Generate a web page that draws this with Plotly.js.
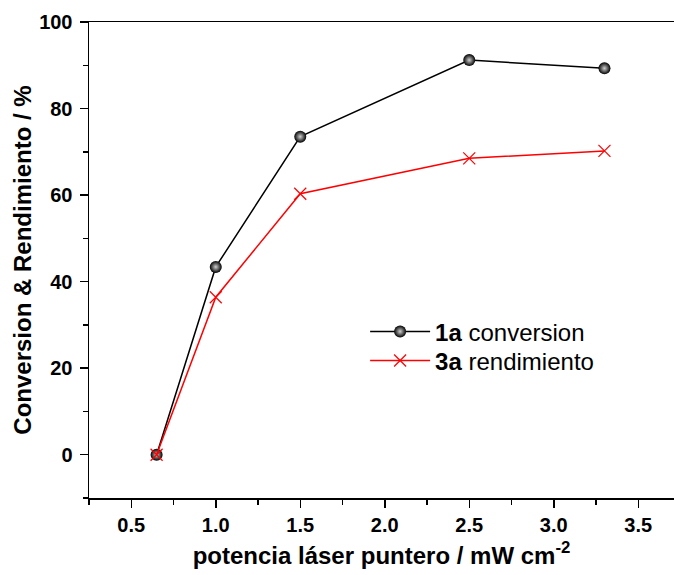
<!DOCTYPE html>
<html>
<head>
<meta charset="utf-8">
<script src="https://cdn.plot.ly/plotly-3.0.1.min.js"></script>
<style>html,body{margin:0;padding:0;background:#fff;overflow:hidden}</style>
</head>
<body>
<div id="chart" style="width:674px;height:575px"></div>
<script>
const potencia = [0.65, 1.0, 1.5, 2.5, 3.3];
const conversion1a = [0, 43.4, 73.5, 91.2, 89.3];
const rendimiento3a = [0, 36.4, 60.3, 68.5, 70.2];
const seriesNames = ['<b>1a</b> conversion', '<b>3a</b> rendimiento'];
const xTitle = 'potencia láser puntero / mW cm<sup>-2</sup>';
const yTitle = 'Conversion &amp; Rendimiento / %';

const FONT = 'Arial, "Liberation Sans", sans-serif';

const traces = [
  {
    x: potencia, y: conversion1a, name: seriesNames[0],
    mode: 'lines+markers', type: 'scatter', legend: 'legend',
    line: {color: 'black', width: 1.5},
    marker: {symbol: 'circle', size: 12, color: 'black',
             gradient: {type: 'radial', color: '#d0d0d0'},
             line: {width: 0}}
  },
  {
    x: potencia, y: rendimiento3a, name: seriesNames[1],
    mode: 'lines+markers', type: 'scatter', legend: 'legend2',
    line: {color: '#ff0000', width: 1.5},
    marker: {symbol: 'x-thin', size: 12, color: '#ff0000',
             line: {color: '#ff0000', width: 1.2}}
  }
];

const axisCommon = {
  showgrid: false, zeroline: false,
  showline: true, linecolor: 'black', linewidth: 1.5,
  ticks: 'outside', ticklen: 8, tickwidth: 1.5, tickcolor: 'black',
  tickfont: {family: FONT, size: 20, color: 'black', weight: 'bold'}
};

const legendCommon = {
  xanchor: 'left', yanchor: 'middle',
  bgcolor: 'rgba(0,0,0,0)', borderwidth: 0,
  font: {family: FONT, size: 24, color: 'black'},
  itemwidth: 60
};

const layout = {
  width: 674, height: 575,
  margin: {l: 89, r: 0, t: 22, b: 77},
  paper_bgcolor: 'white', plot_bgcolor: 'white',
  font: {family: FONT, color: 'black'},
  showlegend: true,
  legend: Object.assign({}, legendCommon, {x: 0.472, y: 0.349}),
  legend2: Object.assign({}, legendCommon, {x: 0.472, y: 0.288}),
  xaxis: Object.assign({}, axisCommon, {
    range: [0.25, 3.7115], tick0: 0.5, dtick: 0.5, tickformat: '.1f',
    mirror: true,
    minor: {dtick: 0.25, tick0: 0.25, ticks: 'outside', ticklen: 5, tickwidth: 1.5, tickcolor: 'black'},
    title: {text: xTitle, standoff: 12,
            font: {family: FONT, size: 24, color: 'black', weight: 'bold'}}
  }),
  yaxis: Object.assign({}, axisCommon, {
    range: [-10, 100], tick0: 0, dtick: 20, ticklabelstandoff: 3,
    minor: {dtick: 10, tick0: 0, ticks: 'outside', ticklen: 5, tickwidth: 1.5, tickcolor: 'black'},
    title: {text: yTitle, standoff: 0,
            font: {family: FONT, size: 24, color: 'black', weight: 'bold'}}
  })
};

Plotly.newPlot('chart', traces, layout, {displayModeBar: false, staticPlot: true});
</script>
</body>
</html>
